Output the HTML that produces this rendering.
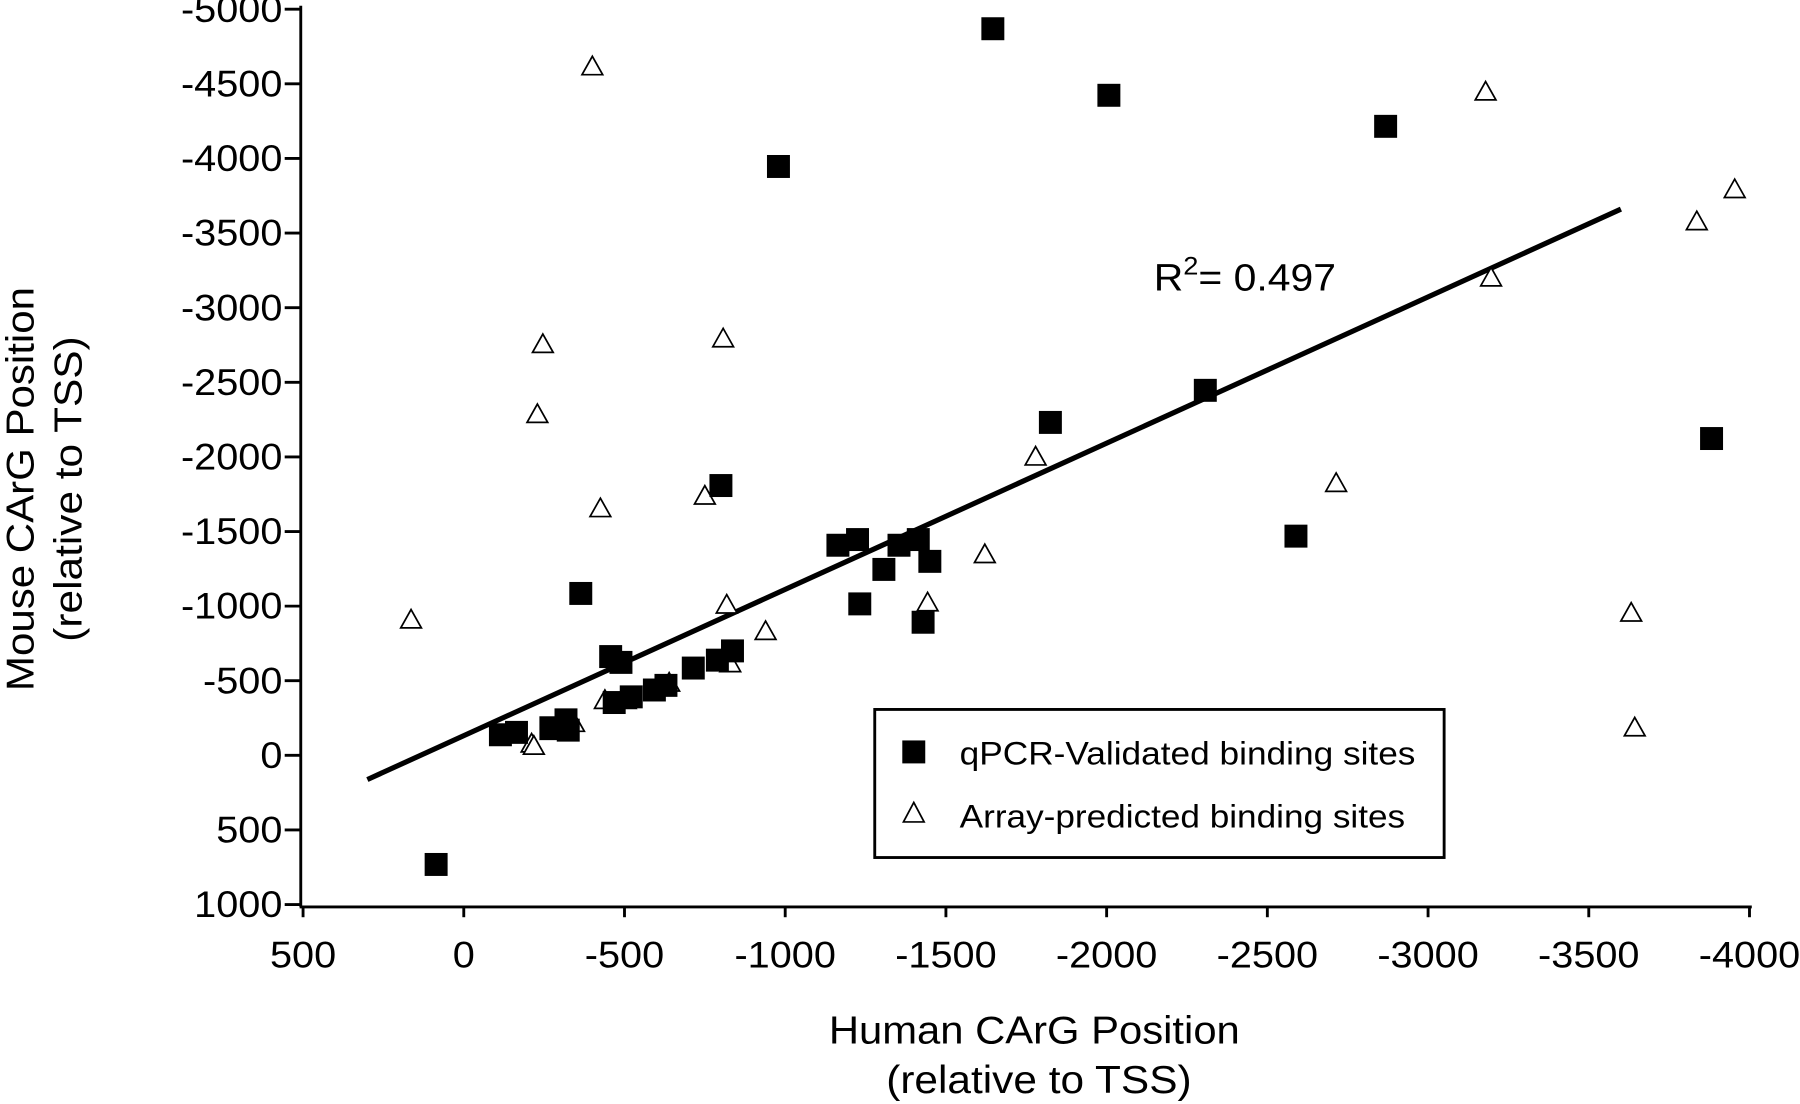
<!DOCTYPE html>
<html><head><meta charset="utf-8"><style>
html,body{margin:0;padding:0;background:#fff;}
svg{display:block;font-family:"Liberation Sans",Arial,sans-serif;}
</style></head><body>
<svg id="chart" width="1800" height="1104" viewBox="0 0 1568 961.7" preserveAspectRatio="none" xmlns="http://www.w3.org/2000/svg">
<g id="axes"></g>
<g id="marks"></g>
<text x="1005" y="253" font-size="33" transform="translate(1005,0) scale(1.08,1) translate(-1005,0)">R<tspan dy="-14" font-size="22">2</tspan><tspan dy="14">= 0.497</tspan></text>
<g>
<rect x="762" y="618" width="496" height="129" fill="#fff" stroke="#000" stroke-width="2.5"/>
<rect x="786" y="645" width="20" height="20" fill="#000"/>
<text x="836" y="666" font-size="28" textLength="397" lengthAdjust="spacingAndGlyphs">qPCR-Validated binding sites</text>
<polygon points="796,699 805,716 787,716" fill="#fff" stroke="#000" stroke-width="1.5"/>
<text x="836" y="721" font-size="28" textLength="388" lengthAdjust="spacingAndGlyphs">Array-predicted binding sites</text>
</g>
<text x="722" y="909" font-size="34" textLength="358" lengthAdjust="spacingAndGlyphs">Human CArG Position</text>
<text x="772" y="952" font-size="34" textLength="266" lengthAdjust="spacingAndGlyphs">(relative to TSS)</text>
<text transform="translate(29,426) rotate(-90)" font-size="34" text-anchor="middle" textLength="352" lengthAdjust="spacingAndGlyphs">Mouse CArG Position</text>
<text transform="translate(71,426) rotate(-90)" font-size="34" text-anchor="middle" textLength="266" lengthAdjust="spacingAndGlyphs">(relative to TSS)</text>
</svg>
<script>
const xTicks=[500,0,-500,-1000,-1500,-2000,-2500,-3000,-3500,-4000];
const yTicks=[-5000,-4500,-4000,-3500,-3000,-2500,-2000,-1500,-1000,-500,0,500,1000];
const qpcrX=[-1646,-2007,-2868,-979,-2307,-1825,-3882,-800,-2589,-364,-1164,-1225,-1354,-1414,-1450,-1307,-1232,-1429,-457,-489,-836,-789,-714,-629,-593,-521,-468,-318,-271,-325,-164,-114,86];
const qpcrY=[-4869,-4423,-4215,-3946,-2446,-2231,-2123,-1808,-1469,-1085,-1408,-1446,-1408,-1446,-1300,-1246,-1015,-892,-662,-623,-700,-638,-585,-469,-438,-392,-354,-238,-185,-169,-154,-138,731];
const arrayX=[-400,-3179,-3954,-3836,-3196,-246,-807,-229,-1779,-750,-425,-2714,-1621,164,-818,-1443,-939,-3632,-3643,-829,-639,-504,-439,-343,-271,-211,-218];
const arrayY=[-4615,-4446,-3792,-3577,-3200,-2754,-2792,-2285,-2000,-1738,-1654,-1823,-1346,-908,-1008,-1023,-831,-954,-185,-615,-485,-369,-369,-215,-162,-77,-62];
const fitSlope=0.98, fitIntercept=-132, fitRange=[300,-3600];

const NS="http://www.w3.org/2000/svg";
const X0=264,X1=1524,Y0=8,Y1=788;
function sx(v){return X0+(500-v)/4500*(X1-X0);}
function sy(v){return Y0+(v+5000)/6000*(Y1-Y0);}
function mk(tag,attrs,parent){const e=document.createElementNS(NS,tag);for(const k in attrs)e.setAttribute(k,attrs[k]);parent.appendChild(e);return e;}
const axes=document.getElementById('axes'),marks=document.getElementById('marks');
let a=mk('line',{x1:262,y1:5,x2:262,y2:790,stroke:'#000','stroke-width':2.5},axes);


a=mk('line',{x1:261,y1:790,x2:1526,y2:790,stroke:'#000','stroke-width':2.5},axes);


xTicks.forEach(v=>{
 const x=sx(v);
 const t=mk('line',{x1:x,y1:790,x2:x,y2:799,stroke:'#000','stroke-width':2.5},axes);
 
 
 const l=mk('text',{x:x,y:843,'font-size':32,'text-anchor':'middle',transform:`translate(${x},0) scale(1.08,1) translate(${-x},0)`},axes);
 l.textContent=v;
 
 
});
yTicks.forEach(v=>{
 const y=sy(v);
 const t=mk('line',{x1:248,y1:y,x2:262,y2:y,stroke:'#000','stroke-width':2.5},axes);
 
 
 const l=mk('text',{x:246,y:y+11,'font-size':32,'text-anchor':'end',transform:`translate(246,0) scale(1.08,1) translate(-246,0)`},axes);
 l.textContent=v;
 
 
});
const fl=mk('line',{x1:sx(fitRange[0]),y1:sy(fitSlope*fitRange[0]+fitIntercept),x2:sx(fitRange[1]),y2:sy(fitSlope*fitRange[1]+fitIntercept),stroke:'#000','stroke-width':4.5},marks);


arrayX.forEach((v,i)=>{
 const x=sx(v),y=sy(arrayY[i]);
 const p=mk('polygon',{points:`${x},${y-9} ${x+9},${y+7} ${x-9},${y+7}`,fill:'#fff',stroke:'#000','stroke-width':1.5},marks);
 
 
});
qpcrX.forEach((v,i)=>{
 const x=sx(v),y=sy(qpcrY[i]);
 const r=mk('rect',{x:x-10,y:y-10,width:20,height:20,fill:'#000'},marks);
 
 
});
</script>
</body></html>
